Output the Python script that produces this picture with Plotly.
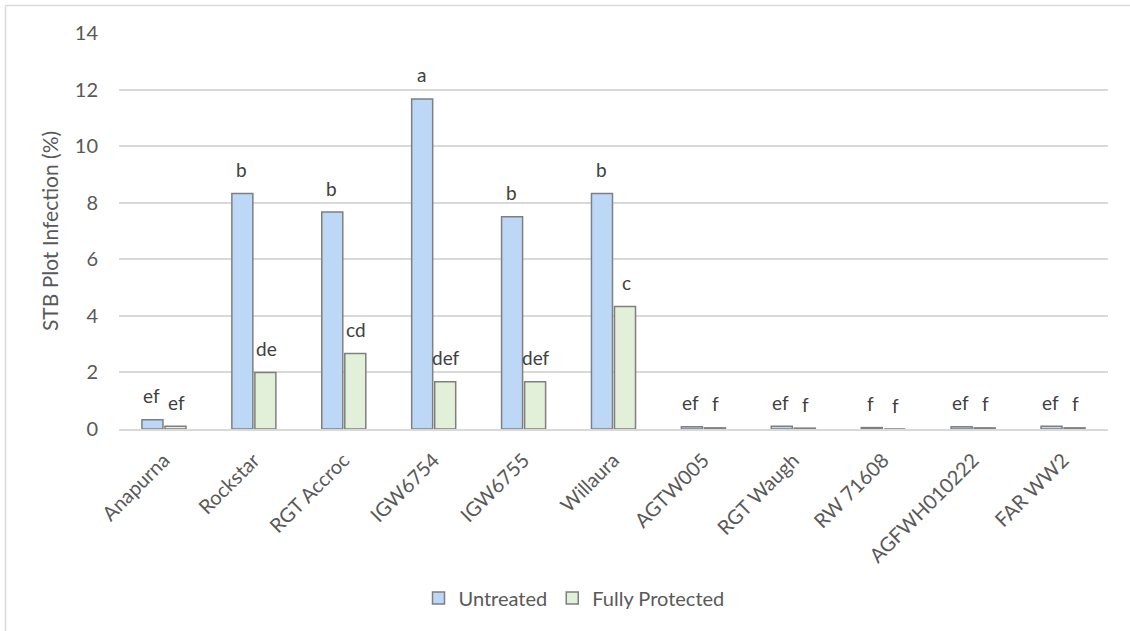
import plotly.graph_objects as go

# Varieties and mean STB infection (%) per treatment
varieties = ["Anapurna", "Rockstar", "RGT Accroc", "IGW6754", "IGW6755", "Willaura",
             "AGTW005", "RGT Waugh", "RW 71608", "AGFWH010222", "FAR WW2"]
untreated = [0.33, 8.33, 7.67, 11.67, 7.5, 8.33, 0.08, 0.1, 0.05, 0.08, 0.1]
protected = [0.1, 2.0, 2.67, 1.67, 1.67, 4.33, 0.04, 0.03, 0.0, 0.04, 0.04]

# Significance groupings
letters_untreated = ["ef", "b", "b", "a", "b", "b", "ef", "ef", "f", "ef", "ef"]
letters_protected = ["ef", "de", "cd", "def", "def", "c", "f", "f", "f", "f", "f"]

FONT = "Lato, Calibri, Carlito, sans-serif"
GREY_TEXT = "#595959"
GRID = "#D9D9D9"
FS = 20

W, H = 1130, 631
ML, MR, MT, MB = 119, 22, 33, 202

fig = go.Figure()
fig.add_trace(go.Bar(
    x=varieties, y=untreated, name="Untreated",
    marker=dict(color="#BDD7F7", line=dict(color="#7F7F7F", width=1.5)),
))
fig.add_trace(go.Bar(
    x=varieties, y=protected, name="Fully Protected",
    marker=dict(color="#E2F0D9", line=dict(color="#7F7F7F", width=1.5)),
))

annotations = []
for v, yu, yp, lu, lp in zip(varieties, untreated, protected,
                             letters_untreated, letters_protected):
    annotations.append(dict(x=v, y=yu, text=lu, showarrow=False, xshift=-12.5,
                            yshift=24, yanchor="middle",
                            font=dict(family=FONT, size=FS - 1, color="#404040")))
    annotations.append(dict(x=v, y=yp, text=lp, showarrow=False, xshift=12.5,
                            yshift=24, yanchor="middle",
                            font=dict(family=FONT, size=FS - 1, color="#404040")))

pw = W - ML - MR
ph = H - MT - MB
left_px, top_px = 5.5, 5.5
bx0 = (left_px - ML) / pw
by1 = (H - MB - top_px) / ph

shapes = [
    dict(type="line", xref="paper", yref="paper", x0=bx0, x1=bx0,
         y0=by1, y1=-1.0, line=dict(color=GRID, width=1.5)),
    dict(type="line", xref="paper", yref="paper", x0=bx0, x1=1.2,
         y0=by1, y1=by1, line=dict(color=GRID, width=1.5)),
]

# legend centre at about (574, 598) px
leg_x = (574 - ML) / pw
leg_y = (H - MB - 598) / ph

fig.update_layout(
    width=W, height=H,
    margin=dict(l=ML, r=MR, t=MT, b=MB),
    paper_bgcolor="white", plot_bgcolor="white",
    font=dict(family=FONT, size=FS, color=GREY_TEXT),
    barmode="group", bargap=0.488, bargroupgap=0.087,
    showlegend=True,
    legend=dict(orientation="h", x=leg_x, xanchor="center", y=leg_y,
                yanchor="middle", font=dict(family=FONT, size=FS, color=GREY_TEXT),
                traceorder="normal", itemwidth=30),
    annotations=annotations,
    shapes=shapes,
)
fig.update_xaxes(
    tickangle=-45, showgrid=False, showline=True, linecolor=GRID, linewidth=1.5,
    ticks="", tickfont=dict(family=FONT, size=FS, color=GREY_TEXT),
    ticklabelstandoff=10,
)
fig.update_yaxes(
    range=[0, 14], dtick=2, showgrid=True, gridcolor=GRID, gridwidth=1.5,
    zeroline=False, showline=False, ticks="",
    tickfont=dict(family=FONT, size=FS, color=GREY_TEXT),
    ticklabelstandoff=20,
    title=dict(text="STB Plot Infection (%)", font=dict(family=FONT, size=FS + 1, color=GREY_TEXT),
               standoff=10),
)

fig.write_html("out.html")
